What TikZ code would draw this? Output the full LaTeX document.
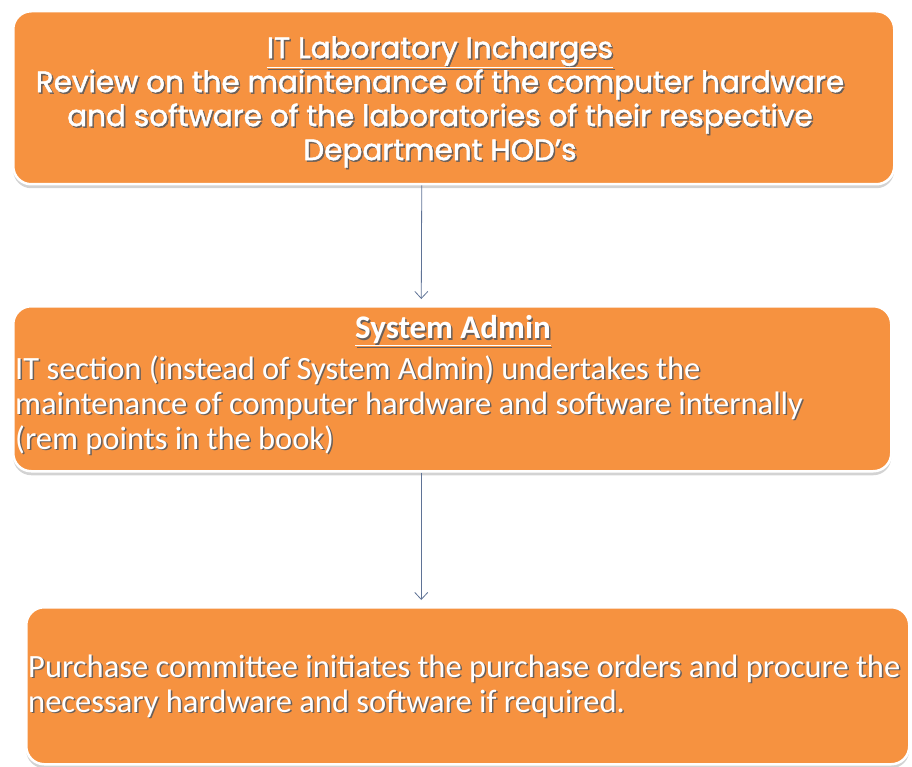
\documentclass[tikz,border=0pt]{standalone}
\usepackage{fontspec}
\setmainfont{Carlito}
\newfontfamily\geofont[FakeBold=1.6]{Poppins}
\usetikzlibrary{shadows,arrows.meta}
\definecolor{boxfill}{RGB}{246,146,64}
\definecolor{arrowcol}{RGB}{95,115,150}
\definecolor{txtshadow}{RGB}{105,95,90}

\tikzset{
  flowbox/.style={draw=white, line width=2.5pt, fill=boxfill, rounded corners=18pt,
    drop shadow={shadow xshift=0pt, shadow yshift=-4pt, opacity=0.35, fill=gray}},
  flowarrow/.style={draw=arrowcol, line width=0.8pt, shorten >=6pt,
    -{Straight Barb[length=7pt,width=13pt]}},
  boxtext/.style={text=white, inner sep=0pt},
  boxshade/.style={text=txtshadow, inner sep=0pt},
  headfont/.style={font=\geofont\fontsize{29.5}{34}\selectfont},
  bodyfont/.style={font=\fontsize{32.5}{35}\selectfont},
}

% white text with a grey offset copy beneath it
\newcommand\shadedtext[4]{%
  \node[boxshade,#3] (#1s) at ([xshift=1.5pt,yshift=-1.5pt]#2) {#4};
  \node[boxtext,#3] (#1) at (#2) {#4};}

\begin{document}
\begin{tikzpicture}[x=1pt,y=-1pt]
  \useasboundingbox (0,0) rectangle (912,767);
  \clip (0,0) rectangle (912,767);

  % process boxes
  \node[flowbox, anchor=north west, minimum width=881pt, minimum height=173pt] (box1) at (12,10) {};
  \node[flowbox, anchor=north west, minimum width=878pt, minimum height=165pt] (box2) at (12,305) {};
  \node[flowbox, anchor=north west, minimum width=883pt, minimum height=157pt] (box3) at (25,606) {};

  % box texts
  \shadedtext{t1}{440,102}{headfont, align=center}{\underline{IT Laboratory Incharges}\\
    Review on the maintenance of the computer hardware\\
    and software of the laboratories of their respective\\
    Department HOD’s}

  \shadedtext{t2a}{453,331}{font=\bfseries\fontsize{33}{35}\selectfont}{\underline{System Admin}}
  \shadedtext{t2b}{15,405}{bodyfont, anchor=west, align=left}{IT section (instead of System Admin) undertakes the\\
    maintenance of computer hardware and software internally\\
    (rem points in the book)}

  \shadedtext{t3}{28,686}{bodyfont, anchor=west, align=left}{Purchase committee initiates the purchase orders and procure the\\
    necessary hardware and software if required.}

  % connectors
  \draw[flowarrow] ([xshift=-32pt]box1.south) -- ([xshift=-31pt]box2.north);
  \draw[flowarrow] ([xshift=-31pt]box2.south) -- ([xshift=-46.5pt]box3.north);
\end{tikzpicture}
\end{document}
